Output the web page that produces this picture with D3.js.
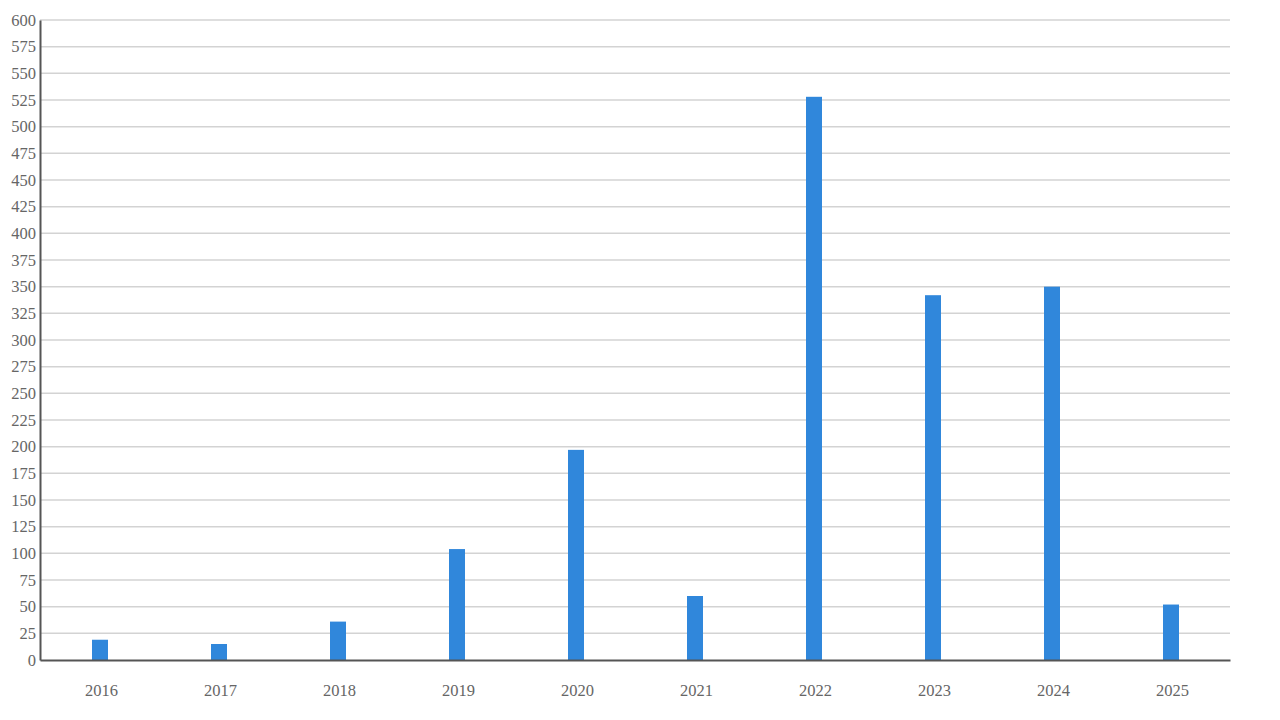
<!DOCTYPE html>
<html><head><meta charset="utf-8">
<script src="https://cdn.jsdelivr.net/npm/d3@7"></script>
<style>body{margin:0;background:#fff}svg{display:block}</style>
</head><body>
<svg id="c" width="1280" height="720"></svg>
<script>
const years = ["2016","2017","2018","2019","2020","2021","2022","2023","2024","2025"];
const values = [19, 15, 36, 104, 197, 60, 528, 342, 350, 52];
const yTicks = d3.range(0, 601, 25);

const svg = d3.select("#c");
const m = {l:40, r:50, t:20, b:60};
const W = 1280, H = 720;
const x = d3.scaleBand().domain(years).range([m.l, W - m.r]);
const y = d3.scaleLinear().domain([0, 600]).range([H - m.b, m.t]);
const font = "'Liberation Serif', 'Times New Roman', serif";

// gridlines
svg.append("g").selectAll("line").data(yTicks.filter(d=>d>0)).join("line")
  .attr("x1", m.l).attr("x2", W - m.r)
  .attr("y1", d=>y(d)).attr("y2", d=>y(d))
  .attr("stroke", "#d3d3d3").attr("stroke-width", 1.5);

// bars
const bw = 16;
svg.append("g").selectAll("rect").data(values).join("rect")
  .attr("x", (d,i)=> x(years[i]) + x.bandwidth()/2 - bw/2 + 0.5)
  .attr("width", bw)
  .attr("y", d=>y(d))
  .attr("height", d=>y(0)-y(d))
  .attr("fill", "#3087db");

// y axis
const ya = svg.append("g").attr("transform", `translate(${m.l},0)`)
  .call(d3.axisLeft(y).tickValues(yTicks).tickSize(0).tickPadding(4));
ya.select(".domain").attr("stroke", "#555").attr("stroke-width", 2);
ya.selectAll("text").attr("font-family", font).attr("font-size", 16.5).attr("fill", "#666");

// x axis
const xa = svg.append("g").attr("transform", `translate(0,${y(0)})`)
  .call(d3.axisBottom(x).tickSize(0).tickPadding(24));
xa.select(".domain").attr("stroke", "#555").attr("stroke-width", 2);
xa.selectAll("text").attr("font-family", font).attr("font-size", 16.5).attr("fill", "#666")
  .attr("dx", 2);
</script>
</body></html>
